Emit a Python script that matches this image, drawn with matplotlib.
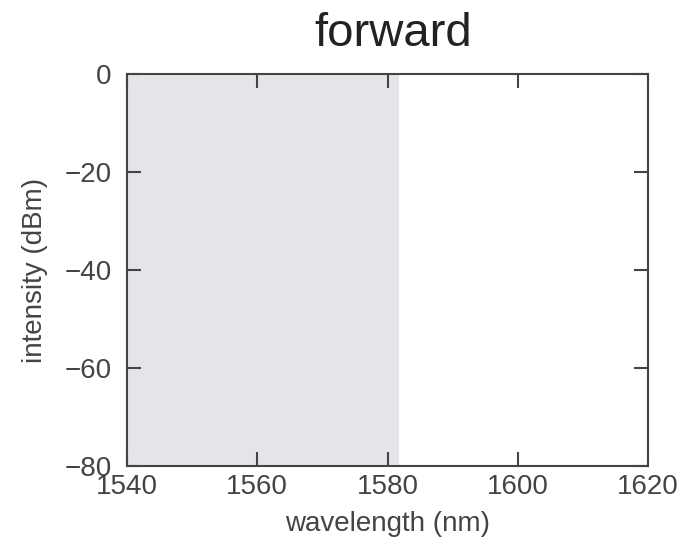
import numpy as np
import matplotlib
matplotlib.use('Agg')
import matplotlib.pyplot as plt

plt.rcParams['font.family'] = ['Liberation Sans', 'DejaVu Sans']

# data
xlim = (1540, 1620)
ylim = (-80, 0)
xticks = [1540, 1560, 1580, 1600, 1620]
yticks = [-80, -60, -40, -20, 0]
span = (1540, 1581.8)
title = 'forward'
xlabel = 'wavelength (nm)'
ylabel = 'intensity (dBm)'

fig = plt.figure(figsize=(6.85, 5.44), dpi=100)
ax = fig.add_axes([0.1854, 0.1434, 0.7606, 0.7206])
ax.axvspan(span[0], span[1], color='#e4e5e8', lw=0)
ax.set_xlim(*xlim)
ax.set_ylim(*ylim)
ax.set_xticks(xticks)
ax.set_yticks(yticks)
ax.set_yticklabels([str(v).replace('-', '\u2212') for v in yticks])
for s in ax.spines.values():
    s.set_color('#444444')
    s.set_linewidth(1.5)
ax.tick_params(direction='in', top=True, right=True, length=10, width=1.5,
               color='#444444', labelsize=20, labelcolor='#444444')
ax.tick_params(axis='x', pad=6)
ax.tick_params(axis='y', pad=11)
ax.set_xlabel(xlabel, fontsize=20, color='#444444', labelpad=8)
ax.set_ylabel(ylabel, fontsize=20, color='#444444', labelpad=12)
ax.set_title(title, fontsize=34, color='#222222', pad=20, x=0.51)
fig.savefig('out.png', dpi=100)
